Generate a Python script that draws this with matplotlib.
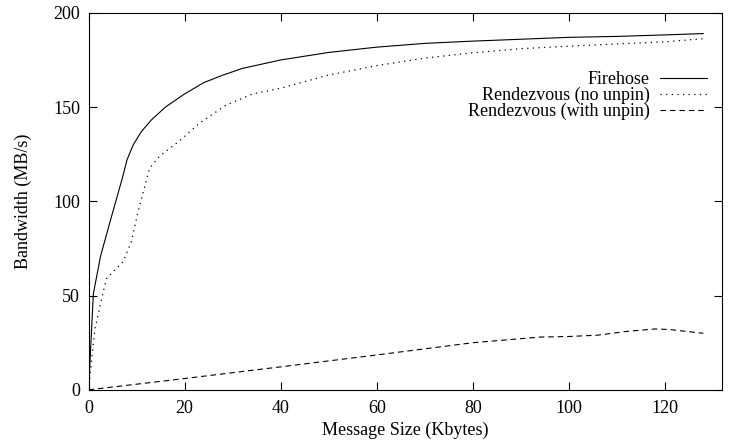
import matplotlib
matplotlib.use("Agg")
import matplotlib.pyplot as plt

plt.rcParams['font.family'] = ['Liberation Serif', 'DejaVu Serif']

# Firehose
fh_x = [0, 1, 2.5, 5, 7, 8, 9.3, 11, 13, 16, 20, 24, 28, 32, 40, 50, 60, 70, 80, 90, 100, 110, 120, 128]
fh_y = [0, 51, 71, 94, 112, 122, 130, 137, 143, 150, 157, 163, 167, 170.5, 175, 179, 181.8, 183.8, 185, 186, 187, 187.5, 188.3, 189]

# Rendezvous (no unpin)
nu_x = [0, 1.3, 2.7, 3.7, 7.2, 8.9, 10.3, 11.4, 12.7, 14.8, 18.9, 23.1, 28.6, 34.2, 40, 50, 60, 70, 80, 90, 100, 110, 120, 128]
nu_y = [0, 32, 48, 59, 68, 78.5, 94.5, 105, 117.5, 124, 132, 141.5, 151, 157, 160, 167, 172, 176, 178.8, 181, 182.3, 183.5, 184.6, 186.3]

# Rendezvous (with unpin)
wu_x = [0, 20, 40, 60, 80, 94, 100, 106, 112, 118, 121, 128]
wu_y = [0, 6, 12.2, 18.5, 25, 28, 28.3, 29, 31, 32.3, 32, 30]

fig = plt.figure(figsize=(7.32, 4.43), dpi=100)
ax = fig.add_axes([0.121, 0.12, 0.866, 0.851])

ax.plot(fh_x, fh_y, color='black', lw=0.8, label='Firehose')
ax.plot(nu_x, nu_y, color='black', lw=0.9, linestyle=(0, (1, 3.5)), label='Rendezvous (no unpin)')
ax.plot(wu_x, wu_y, color='black', lw=0.8, linestyle=(0, (5, 3.5)), label='Rendezvous (with unpin)')

ax.set_xlim(0, 132)
ax.set_ylim(0, 200)
ax.set_xticks([0, 20, 40, 60, 80, 100, 120])
ax.set_yticks([0, 50, 100, 150, 200])
ax.tick_params(direction='in', length=5.8, width=0.8, top=True, right=True, labelsize=13)
ax.tick_params(axis='x', pad=7)
ax.tick_params(axis='y', pad=6)
for s in ax.spines.values():
    s.set_linewidth(0.8)

ax.set_xlabel('Message Size (Kbytes)', fontsize=13, labelpad=4)
ax.set_ylabel('Bandwidth (MB/s)', fontsize=13, labelpad=15)

ax.legend(loc='upper right', bbox_to_anchor=(0.975, 0.845), frameon=False, markerfirst=False,
          fontsize=13, handlelength=2.6, handletextpad=0.55, labelspacing=-0.08,
          borderaxespad=0, borderpad=0)

fig.savefig('out.png', dpi=100)
